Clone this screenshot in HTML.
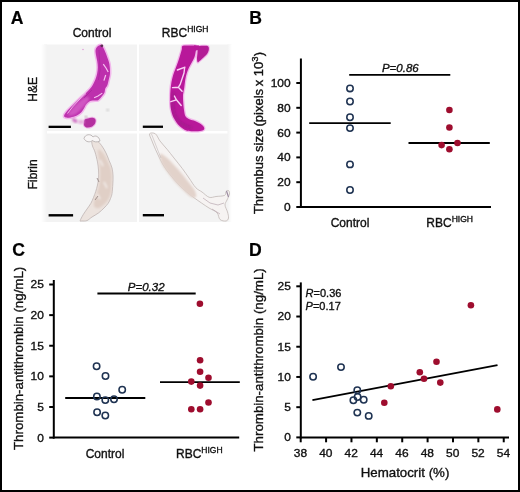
<!DOCTYPE html>
<html><head><meta charset="utf-8"><style>
html,body{margin:0;padding:0;background:#fff;}
body{width:520px;height:492px;overflow:hidden;position:relative;}
#fr{position:absolute;left:0;top:0;width:516px;height:488px;border:2px solid #000;background:#fff;}
svg{position:absolute;left:0;top:0;will-change:transform;filter:blur(0.3px);}
text{font-family:"Liberation Sans", sans-serif;fill:#111;stroke:#111;stroke-width:0.35px;}
.lab{font-size:17.6px;font-weight:bold;fill:#000;stroke:#000;stroke-width:0.2px;}
.cat{font-size:12px;}
.ttl{font-size:13.3px;}
.tick{font-size:11.5px;}
.it{font-style:italic;}
.sup{font-size:8.5px;}
.sup3{font-size:9.5px;}
.ax{stroke:#000;stroke-width:2;}
.ln{stroke:#000;stroke-width:1.8;}
</style></head><body>
<div id="fr"></div>
<svg width="520" height="492" viewBox="0 0 520 492">
<defs><linearGradient id="gl" x1="0" x2="1" y1="0" y2="0"><stop offset="0" stop-color="#fff"/><stop offset="1" stop-color="#f3f3f3"/></linearGradient><linearGradient id="gr" x1="0" x2="1" y1="0" y2="0"><stop offset="0" stop-color="#f3f3f3"/><stop offset="1" stop-color="#fff"/></linearGradient><filter id="bl" x="-20%" y="-20%" width="140%" height="140%"><feGaussianBlur stdDeviation="0.8"/></filter></defs>
<rect x="44" y="44.5" width="93" height="86.5" fill="#f3f3f3"/>
<rect x="139" y="44.5" width="92.5" height="86.5" fill="#f3f3f3"/>
<rect x="43.5" y="133.5" width="93.5" height="88.5" fill="#f3f3f3"/>
<rect x="139" y="133.5" width="92.5" height="88.5" fill="#f3f3f3"/>
<rect x="41" y="44.5" width="6" height="177.5" fill="url(#gl)"/>
<rect x="227.5" y="44.5" width="4.5" height="177.5" fill="url(#gr)"/>
<circle cx="107.7" cy="110" r="1.3" fill="#c8c8c8" filter="url(#bl)"/>
<circle cx="83" cy="49.5" r="0.8" fill="#e0a0d8"/>
<path d="M100.90,45.00 C101.87,45.20 102.50,46.35 103.30,47.70 C104.10,49.05 105.00,51.38 105.70,53.10 C106.40,54.82 106.88,56.17 107.50,58.00 C108.12,59.83 108.98,61.55 109.40,64.10 C109.82,66.65 110.10,70.75 110.00,73.30 C109.90,75.85 109.27,77.35 108.80,79.40 C108.33,81.45 107.78,84.08 107.20,85.60 C106.62,87.12 105.78,87.25 105.30,88.50 C104.82,89.75 104.97,91.67 104.30,93.10 C103.63,94.53 102.32,95.92 101.30,97.10 C100.28,98.28 99.25,99.62 98.20,100.20 C97.15,100.78 96.35,100.45 95.00,100.60 C93.65,100.75 91.60,100.47 90.10,101.10 C88.60,101.73 86.95,103.32 86.00,104.40 C85.05,105.48 85.22,106.25 84.40,107.60 C83.58,108.95 82.45,111.13 81.10,112.50 C79.75,113.87 78.05,114.98 76.30,115.80 C74.55,116.62 72.32,117.10 70.60,117.40 C68.88,117.70 67.08,117.87 66.00,117.60 C64.92,117.33 64.02,116.78 64.10,115.80 C64.18,114.82 65.10,113.42 66.50,111.70 C67.90,109.98 70.37,107.62 72.50,105.50 C74.63,103.38 77.05,101.08 79.30,99.00 C81.55,96.92 83.97,95.00 86.00,93.00 C88.03,91.00 89.93,89.27 91.50,87.00 C93.07,84.73 94.45,81.68 95.40,79.40 C96.35,77.12 96.80,75.33 97.20,73.30 C97.60,71.27 97.80,69.23 97.80,67.20 C97.80,65.17 97.50,63.13 97.20,61.10 C96.90,59.07 96.27,56.83 96.00,55.00 C95.73,53.17 95.35,51.52 95.60,50.10 C95.85,48.68 96.62,47.35 97.50,46.50 C98.38,45.65 99.93,44.80 100.90,45.00Z" fill="#ec9be2" stroke="#f2b8ec" stroke-width="3" stroke-linejoin="round"/>
<path d="M100.90,45.00 C101.87,45.20 102.50,46.35 103.30,47.70 C104.10,49.05 105.00,51.38 105.70,53.10 C106.40,54.82 106.88,56.17 107.50,58.00 C108.12,59.83 108.98,61.55 109.40,64.10 C109.82,66.65 110.10,70.75 110.00,73.30 C109.90,75.85 109.27,77.35 108.80,79.40 C108.33,81.45 107.78,84.08 107.20,85.60 C106.62,87.12 105.78,87.25 105.30,88.50 C104.82,89.75 104.97,91.67 104.30,93.10 C103.63,94.53 102.32,95.92 101.30,97.10 C100.28,98.28 99.25,99.62 98.20,100.20 C97.15,100.78 96.35,100.45 95.00,100.60 C93.65,100.75 91.60,100.47 90.10,101.10 C88.60,101.73 86.95,103.32 86.00,104.40 C85.05,105.48 85.22,106.25 84.40,107.60 C83.58,108.95 82.45,111.13 81.10,112.50 C79.75,113.87 78.05,114.98 76.30,115.80 C74.55,116.62 72.32,117.10 70.60,117.40 C68.88,117.70 67.08,117.87 66.00,117.60 C64.92,117.33 64.02,116.78 64.10,115.80 C64.18,114.82 65.10,113.42 66.50,111.70 C67.90,109.98 70.37,107.62 72.50,105.50 C74.63,103.38 77.05,101.08 79.30,99.00 C81.55,96.92 83.97,95.00 86.00,93.00 C88.03,91.00 89.93,89.27 91.50,87.00 C93.07,84.73 94.45,81.68 95.40,79.40 C96.35,77.12 96.80,75.33 97.20,73.30 C97.60,71.27 97.80,69.23 97.80,67.20 C97.80,65.17 97.50,63.13 97.20,61.10 C96.90,59.07 96.27,56.83 96.00,55.00 C95.73,53.17 95.35,51.52 95.60,50.10 C95.85,48.68 96.62,47.35 97.50,46.50 C98.38,45.65 99.93,44.80 100.90,45.00Z" fill="#bd30ad"/>
<path d="M84.50,120.00 C85.17,118.92 86.67,118.87 88.00,118.50 C89.33,118.13 91.27,117.63 92.50,117.80 C93.73,117.97 94.98,118.55 95.40,119.50 C95.82,120.45 95.65,122.28 95.00,123.50 C94.35,124.72 92.92,126.15 91.50,126.80 C90.08,127.45 87.75,127.70 86.50,127.40 C85.25,127.10 84.33,126.23 84.00,125.00 C83.67,123.77 83.83,121.08 84.50,120.00Z" fill="#c048b4" stroke="#f0b0e8" stroke-width="2"/>
<path d="M84.50,120.00 C85.17,118.92 86.67,118.87 88.00,118.50 C89.33,118.13 91.27,117.63 92.50,117.80 C93.73,117.97 94.98,118.55 95.40,119.50 C95.82,120.45 95.65,122.28 95.00,123.50 C94.35,124.72 92.92,126.15 91.50,126.80 C90.08,127.45 87.75,127.70 86.50,127.40 C85.25,127.10 84.33,126.23 84.00,125.00 C83.67,123.77 83.83,121.08 84.50,120.00Z" fill="#b4309f"/>
<path d="M68,114 C72,108 78,102 84,98 C88,96 91,97 88,101 C85,105 81,110 76,114 C72,116 68,116.5 68,114 Z" fill="#d056c2" filter="url(#bl)"/>
<path d="M72,118.5 C74,117.5 77,119 78,121.5 C77,123.5 74,123 72.5,121 Z" fill="#d070c4" filter="url(#bl)"/>
<path d="M78,121 C80,119 84,119.5 84.5,122 C83,124.5 80,124.5 78,123 Z" fill="#e6b0de" filter="url(#bl)"/>
<circle cx="86" cy="117" r="1.1" fill="#a08898" filter="url(#bl)"/>
<path d="M103.3,64.1 L106,68 L108.2,72 M105.7,75 L103.9,80.6" stroke="#f5c4f0" stroke-width="1.2" fill="none"/>
<path d="M94.1,97.7 L98,96 L102.3,93.1" stroke="#f5c4f0" stroke-width="1.1" fill="none"/>
<path d="M67.5,113.5 L72.5,107 L79,100 L86,93.5" stroke="#f3c0ee" stroke-width="0.9" fill="none"/>
<path d="M99,50 L99.5,60 L100,70 L98.5,80 M92,90 L84,98" stroke="#9a2290" stroke-width="1" stroke-opacity="0.45" fill="none"/>
<circle cx="101.8" cy="45.8" r="1.4" fill="#5a3050"/>
<path d="M182.50,46.00 C183.53,45.33 186.08,45.58 188.00,45.50 C189.92,45.42 192.58,45.33 194.00,45.50 C195.42,45.67 196.22,45.48 196.50,46.50 C196.78,47.52 196.03,49.85 195.70,51.60 C195.37,53.35 195.12,55.27 194.50,57.00 C193.88,58.73 192.92,60.25 192.00,62.00 C191.08,63.75 189.87,65.67 189.00,67.50 C188.13,69.33 187.43,70.92 186.80,73.00 C186.17,75.08 185.63,77.50 185.20,80.00 C184.77,82.50 184.57,85.50 184.20,88.00 C183.83,90.50 183.17,92.67 183.00,95.00 C182.83,97.33 183.03,99.50 183.20,102.00 C183.37,104.50 183.60,107.58 184.00,110.00 C184.40,112.42 184.60,114.92 185.60,116.50 C186.60,118.08 188.43,118.75 190.00,119.50 C191.57,120.25 193.33,120.33 195.00,121.00 C196.67,121.67 198.58,122.58 200.00,123.50 C201.42,124.42 202.83,125.50 203.50,126.50 C204.17,127.50 204.58,128.75 204.00,129.50 C203.42,130.25 201.83,130.72 200.00,131.00 C198.17,131.28 195.17,131.23 193.00,131.20 C190.83,131.17 188.78,131.28 187.00,130.80 C185.22,130.32 183.80,129.35 182.30,128.30 C180.80,127.25 179.22,125.88 178.00,124.50 C176.78,123.12 175.92,121.58 175.00,120.00 C174.08,118.42 173.23,117.17 172.50,115.00 C171.77,112.83 170.98,109.83 170.60,107.00 C170.22,104.17 170.22,100.83 170.20,98.00 C170.18,95.17 170.28,92.67 170.50,90.00 C170.72,87.33 171.05,84.50 171.50,82.00 C171.95,79.50 172.55,77.17 173.20,75.00 C173.85,72.83 174.60,71.17 175.40,69.00 C176.20,66.83 177.20,64.33 178.00,62.00 C178.80,59.67 179.57,57.08 180.20,55.00 C180.83,52.92 181.42,51.00 181.80,49.50 C182.18,48.00 181.47,46.67 182.50,46.00Z" fill="#e68ad8" stroke="#f2b4ea" stroke-width="2.6" stroke-linejoin="round"/>
<path d="M182.50,46.00 C183.53,45.33 186.08,45.58 188.00,45.50 C189.92,45.42 192.58,45.33 194.00,45.50 C195.42,45.67 196.22,45.48 196.50,46.50 C196.78,47.52 196.03,49.85 195.70,51.60 C195.37,53.35 195.12,55.27 194.50,57.00 C193.88,58.73 192.92,60.25 192.00,62.00 C191.08,63.75 189.87,65.67 189.00,67.50 C188.13,69.33 187.43,70.92 186.80,73.00 C186.17,75.08 185.63,77.50 185.20,80.00 C184.77,82.50 184.57,85.50 184.20,88.00 C183.83,90.50 183.17,92.67 183.00,95.00 C182.83,97.33 183.03,99.50 183.20,102.00 C183.37,104.50 183.60,107.58 184.00,110.00 C184.40,112.42 184.60,114.92 185.60,116.50 C186.60,118.08 188.43,118.75 190.00,119.50 C191.57,120.25 193.33,120.33 195.00,121.00 C196.67,121.67 198.58,122.58 200.00,123.50 C201.42,124.42 202.83,125.50 203.50,126.50 C204.17,127.50 204.58,128.75 204.00,129.50 C203.42,130.25 201.83,130.72 200.00,131.00 C198.17,131.28 195.17,131.23 193.00,131.20 C190.83,131.17 188.78,131.28 187.00,130.80 C185.22,130.32 183.80,129.35 182.30,128.30 C180.80,127.25 179.22,125.88 178.00,124.50 C176.78,123.12 175.92,121.58 175.00,120.00 C174.08,118.42 173.23,117.17 172.50,115.00 C171.77,112.83 170.98,109.83 170.60,107.00 C170.22,104.17 170.22,100.83 170.20,98.00 C170.18,95.17 170.28,92.67 170.50,90.00 C170.72,87.33 171.05,84.50 171.50,82.00 C171.95,79.50 172.55,77.17 173.20,75.00 C173.85,72.83 174.60,71.17 175.40,69.00 C176.20,66.83 177.20,64.33 178.00,62.00 C178.80,59.67 179.57,57.08 180.20,55.00 C180.83,52.92 181.42,51.00 181.80,49.50 C182.18,48.00 181.47,46.67 182.50,46.00Z" fill="#b8189a"/>
<path d="M197.00,46.50 C197.90,45.97 201.17,45.85 203.00,45.80 C204.83,45.75 207.03,45.55 208.00,46.20 C208.97,46.85 208.97,48.40 208.80,49.70 C208.63,51.00 207.97,52.62 207.00,54.00 C206.03,55.38 204.25,56.83 203.00,58.00 C201.75,59.17 200.40,60.30 199.50,61.00 C198.60,61.70 198.02,62.70 197.60,62.20 C197.18,61.70 197.02,59.53 197.00,58.00 C196.98,56.47 197.40,54.50 197.50,53.00 C197.60,51.50 197.68,50.08 197.60,49.00 C197.52,47.92 196.10,47.03 197.00,46.50Z" fill="#e68ad8" stroke="#f2b4ea" stroke-width="2.2" stroke-linejoin="round"/>
<path d="M197.00,46.50 C197.90,45.97 201.17,45.85 203.00,45.80 C204.83,45.75 207.03,45.55 208.00,46.20 C208.97,46.85 208.97,48.40 208.80,49.70 C208.63,51.00 207.97,52.62 207.00,54.00 C206.03,55.38 204.25,56.83 203.00,58.00 C201.75,59.17 200.40,60.30 199.50,61.00 C198.60,61.70 198.02,62.70 197.60,62.20 C197.18,61.70 197.02,59.53 197.00,58.00 C196.98,56.47 197.40,54.50 197.50,53.00 C197.60,51.50 197.68,50.08 197.60,49.00 C197.52,47.92 196.10,47.03 197.00,46.50Z" fill="#b31c96"/>
<path d="M194,45.3 L199,45.6 L198.2,50 L195.6,50.5 Z" fill="#b8189a"/>
<path d="M174,92 C172,100 172,108 175,116 C178,122 184,126 192,128" stroke="#861878" stroke-width="3" stroke-opacity="0.35" fill="none" filter="url(#bl)"/>
<path d="M177.4,70 L185,67.2 M184.6,68 L184,73 L180.2,84.4 L178.3,87.3 L172.5,87.6 M178.3,87.3 L182.1,91.2 M174.4,96 L176.4,99.8 L170.8,101.7 M176.4,99.8 L181.2,105.5" stroke="#f8d0f4" stroke-width="1.4" fill="none" stroke-linejoin="round" stroke-linecap="round"/>
<path d="M92.00,141.00 C92.58,140.00 94.42,139.27 96.00,140.00 C97.58,140.73 99.83,143.23 101.50,145.40 C103.17,147.57 104.72,150.43 106.00,153.00 C107.28,155.57 108.20,158.30 109.20,160.80 C110.20,163.30 111.37,165.47 112.00,168.00 C112.63,170.53 112.87,173.33 113.00,176.00 C113.13,178.67 112.97,181.07 112.80,184.00 C112.63,186.93 112.38,191.18 112.00,193.60 C111.62,196.02 111.13,196.88 110.50,198.50 C109.87,200.12 109.28,201.72 108.20,203.30 C107.12,204.88 105.60,206.40 104.00,208.00 C102.40,209.60 100.60,211.40 98.60,212.90 C96.60,214.40 93.93,215.72 92.00,217.00 C90.07,218.28 88.67,219.93 87.00,220.60 C85.33,221.27 83.13,221.00 82.00,221.00 C80.87,221.00 80.02,221.63 80.20,220.60 C80.38,219.57 81.97,216.73 83.10,214.80 C84.23,212.87 85.70,210.92 87.00,209.00 C88.30,207.08 89.82,205.22 90.90,203.30 C91.98,201.38 92.70,199.43 93.50,197.50 C94.30,195.57 95.03,193.78 95.70,191.70 C96.37,189.62 97.02,187.25 97.50,185.00 C97.98,182.75 98.43,180.70 98.60,178.20 C98.77,175.70 98.68,172.70 98.50,170.00 C98.32,167.30 98.08,165.00 97.50,162.00 C96.92,159.00 95.83,154.67 95.00,152.00 C94.17,149.33 93.00,147.83 92.50,146.00 C92.00,144.17 91.42,142.00 92.00,141.00Z" fill="#ece3de" stroke="#b8acaa" stroke-width="0.7"/>
<path d="M98.00,150.00 C98.58,148.17 101.33,151.00 103.00,153.00 C104.67,155.00 106.58,158.83 108.00,162.00 C109.42,165.17 110.92,168.33 111.50,172.00 C112.08,175.67 111.67,180.33 111.50,184.00 C111.33,187.67 111.33,191.00 110.50,194.00 C109.67,197.00 108.42,199.67 106.50,202.00 C104.58,204.33 101.08,207.33 99.00,208.00 C96.92,208.67 94.67,207.67 94.00,206.00 C93.33,204.33 94.25,201.00 95.00,198.00 C95.75,195.00 97.67,191.67 98.50,188.00 C99.33,184.33 99.83,180.00 100.00,176.00 C100.17,172.00 99.83,168.33 99.50,164.00 C99.17,159.67 97.42,151.83 98.00,150.00Z" fill="#e0cfc6" filter="url(#bl)"/>
<path d="M100,160 L103,166 M104,182 L107,188 M97,194 L100,199" stroke="#f4f0ee" stroke-width="1.6" fill="none" filter="url(#bl)"/>
<path d="M84,138.5 C85,134 91,133.5 93,137 C95,135 99,136 100,141 C97,142.5 94,142 92.5,140.5 C90,142.5 86,142.5 84,138.5 Z" fill="#f8f6f6" stroke="#b8b2b2" stroke-width="0.9"/>
<path d="M97,178 L99,182 M98,196 L95,200" stroke="#9a8a88" stroke-width="0.9" fill="none"/>
<path d="M149.60,133.80 C150.17,132.60 153.67,132.60 155.40,133.80 C157.13,135.00 158.07,138.43 160.00,141.00 C161.93,143.57 164.67,146.37 167.00,149.20 C169.33,152.03 171.45,154.78 174.00,158.00 C176.55,161.22 179.80,165.17 182.30,168.50 C184.80,171.83 186.75,174.80 189.00,178.00 C191.25,181.20 193.63,185.37 195.80,187.70 C197.97,190.03 199.77,190.40 202.00,192.00 C204.23,193.60 206.87,196.55 209.20,197.30 C211.53,198.05 213.43,196.82 216.00,196.50 C218.57,196.18 222.93,196.23 224.60,195.40 C226.27,194.57 225.35,192.32 226.00,191.50 C226.65,190.68 227.92,190.08 228.50,190.50 C229.08,190.92 229.75,192.42 229.50,194.00 C229.25,195.58 227.75,198.17 227.00,200.00 C226.25,201.83 224.92,203.00 225.00,205.00 C225.08,207.00 226.92,209.83 227.50,212.00 C228.08,214.17 228.75,216.50 228.50,218.00 C228.25,219.50 227.42,220.75 226.00,221.00 C224.58,221.25 221.50,220.88 220.00,219.50 C218.50,218.12 218.83,214.62 217.00,212.70 C215.17,210.78 211.58,209.62 209.00,208.00 C206.42,206.38 204.17,204.83 201.50,203.00 C198.83,201.17 195.55,198.92 193.00,197.00 C190.45,195.08 188.37,193.33 186.20,191.50 C184.03,189.67 181.93,187.92 180.00,186.00 C178.07,184.08 176.60,182.33 174.60,180.00 C172.60,177.67 169.93,174.57 168.00,172.00 C166.07,169.43 164.50,167.10 163.00,164.60 C161.50,162.10 160.27,159.57 159.00,157.00 C157.73,154.43 156.57,151.87 155.40,149.20 C154.23,146.53 152.97,143.57 152.00,141.00 C151.03,138.43 149.03,135.00 149.60,133.80Z" fill="#f6f3f2" stroke="#bab0ae" stroke-width="0.7"/>
<path d="M160.00,154.00 C160.67,152.83 163.67,155.17 166.00,157.00 C168.33,158.83 171.33,162.17 174.00,165.00 C176.67,167.83 179.33,170.83 182.00,174.00 C184.67,177.17 187.83,181.17 190.00,184.00 C192.17,186.83 194.00,188.83 195.00,191.00 C196.00,193.17 196.67,196.00 196.00,197.00 C195.33,198.00 193.17,198.17 191.00,197.00 C188.83,195.83 185.67,192.50 183.00,190.00 C180.33,187.50 177.50,184.83 175.00,182.00 C172.50,179.17 170.17,176.00 168.00,173.00 C165.83,170.00 163.33,167.17 162.00,164.00 C160.67,160.83 159.33,155.17 160.00,154.00Z" fill="#e2d2ca" filter="url(#bl)"/>
<path d="M151.5,134 L155,143 L158.5,152 L161,158" stroke="#c0b8b8" stroke-width="0.6" fill="none"/>
<path d="M203,198 L210,203 L218,205 L224,203 M212,209 L220,214" stroke="#b9a8b0" stroke-width="0.7" fill="none"/>
<path d="M226.5,191 L228.5,197" stroke="#9a8aa0" stroke-width="1.2" fill="none"/>
<rect x="48.6" y="125.7" width="22.3" height="2.3" fill="#000"/>
<rect x="142.8" y="125.6" width="20.2" height="2.3" fill="#000"/>
<rect x="48.6" y="214.1" width="24.5" height="2.4" fill="#000"/>
<rect x="142.8" y="214" width="21.2" height="2.4" fill="#000"/>
<text x="10.8" y="24" class="lab">A</text>
<text x="249.2" y="24" class="lab">B</text>
<text x="12.3" y="255.5" class="lab">C</text>
<text x="249" y="255.5" class="lab">D</text>
<text x="92" y="37.3" class="cat" text-anchor="middle">Control</text>
<text x="161.8" y="37.3" class="cat">RBC<tspan class="sup" dy="-5">HIGH</tspan></text>
<text transform="translate(36.8,89.3) rotate(-90)" class="cat" text-anchor="middle">H&amp;E</text>
<text transform="translate(36.8,174.3) rotate(-90)" class="cat" text-anchor="middle">Fibrin</text>
<line x1="300.9" y1="58.5" x2="300.9" y2="208" class="ax"/>
<line x1="300.0" y1="207" x2="491" y2="207" class="ax"/>
<line x1="296.3" y1="207.00" x2="300.9" y2="207.00" class="ax"/>
<text transform="translate(290.60,210.90) scale(1.04,1)" class="tick" text-anchor="end">0</text>
<line x1="296.3" y1="182.20" x2="300.9" y2="182.20" class="ax"/>
<text transform="translate(290.60,186.10) scale(1.04,1)" class="tick" text-anchor="end">20</text>
<line x1="296.3" y1="157.40" x2="300.9" y2="157.40" class="ax"/>
<text transform="translate(290.60,161.30) scale(1.04,1)" class="tick" text-anchor="end">40</text>
<line x1="296.3" y1="132.60" x2="300.9" y2="132.60" class="ax"/>
<text transform="translate(290.60,136.50) scale(1.04,1)" class="tick" text-anchor="end">60</text>
<line x1="296.3" y1="107.80" x2="300.9" y2="107.80" class="ax"/>
<text transform="translate(290.60,111.70) scale(1.04,1)" class="tick" text-anchor="end">80</text>
<line x1="296.3" y1="83.00" x2="300.9" y2="83.00" class="ax"/>
<text transform="translate(290.60,86.90) scale(1.04,1)" class="tick" text-anchor="end">100</text>
<text transform="translate(262.8,214.1) rotate(-90)" class="ttl" style="font-size:13px">Thrombus size <tspan dx="-1.3">(pixels</tspan><tspan dx="-0.9"> x 10</tspan><tspan class="sup3" dy="-4.4">3</tspan><tspan dy="4.4">)</tspan></text>
<text x="350" y="227" class="cat" text-anchor="middle">Control</text>
<text x="426.3" y="227" class="cat">RBC<tspan class="sup" dy="-5">HIGH</tspan></text>
<line x1="349.2" y1="74.9" x2="450.3" y2="74.9" class="ln"/>
<text x="400.3" y="71.7" class="tick it" text-anchor="middle">P=0.86</text>
<line x1="309.2" y1="123.2" x2="390.7" y2="123.2" class="ln"/>
<circle cx="350" cy="88.4" r="3.2" fill="none" stroke="#1f3352" stroke-width="1.55"/>
<circle cx="350" cy="101.5" r="3.2" fill="none" stroke="#1f3352" stroke-width="1.55"/>
<circle cx="350" cy="117.2" r="3.2" fill="none" stroke="#1f3352" stroke-width="1.55"/>
<circle cx="350" cy="128.1" r="3.2" fill="none" stroke="#1f3352" stroke-width="1.55"/>
<circle cx="350" cy="164.4" r="3.2" fill="none" stroke="#1f3352" stroke-width="1.55"/>
<circle cx="350" cy="190" r="3.2" fill="none" stroke="#1f3352" stroke-width="1.55"/>
<line x1="408.5" y1="143" x2="489.8" y2="143" class="ln"/>
<circle cx="449.4" cy="110" r="3.3" fill="#9e0d2e"/>
<circle cx="449.4" cy="127.5" r="3.3" fill="#9e0d2e"/>
<circle cx="441.6" cy="145.1" r="3.3" fill="#9e0d2e"/>
<circle cx="457.5" cy="143" r="3.3" fill="#9e0d2e"/>
<circle cx="449.4" cy="149.3" r="3.3" fill="#9e0d2e"/>
<line x1="53.8" y1="280" x2="53.8" y2="438.6" class="ax"/>
<line x1="52.9" y1="437.6" x2="239.2" y2="437.6" class="ax"/>
<line x1="49.2" y1="437.60" x2="53.8" y2="437.60" class="ax"/>
<text transform="translate(43.90,441.50) scale(1.04,1)" class="tick" text-anchor="end">0</text>
<line x1="49.2" y1="406.98" x2="53.8" y2="406.98" class="ax"/>
<text transform="translate(43.90,410.88) scale(1.04,1)" class="tick" text-anchor="end">5</text>
<line x1="49.2" y1="376.36" x2="53.8" y2="376.36" class="ax"/>
<text transform="translate(43.90,380.26) scale(1.04,1)" class="tick" text-anchor="end">10</text>
<line x1="49.2" y1="345.74" x2="53.8" y2="345.74" class="ax"/>
<text transform="translate(43.90,349.64) scale(1.04,1)" class="tick" text-anchor="end">15</text>
<line x1="49.2" y1="315.12" x2="53.8" y2="315.12" class="ax"/>
<text transform="translate(43.90,319.02) scale(1.04,1)" class="tick" text-anchor="end">20</text>
<line x1="49.2" y1="284.50" x2="53.8" y2="284.50" class="ax"/>
<text transform="translate(43.90,288.40) scale(1.04,1)" class="tick" text-anchor="end">25</text>
<text transform="translate(23.3,358.4) rotate(-90)" class="ttl" text-anchor="middle">Thrombin-antithrombin (ng/mL)</text>
<text x="105" y="457.6" class="cat" text-anchor="middle">Control</text>
<text x="176" y="457.6" class="cat">RBC<tspan class="sup" dy="-5">HIGH</tspan></text>
<line x1="97.4" y1="293.5" x2="195.7" y2="293.5" class="ln"/>
<text x="146.2" y="291" class="tick it" text-anchor="middle">P=0.32</text>
<line x1="65.2" y1="398" x2="145.3" y2="398" class="ln"/>
<circle cx="96.6" cy="366.2" r="3.2" fill="none" stroke="#1f3352" stroke-width="1.55"/>
<circle cx="105.5" cy="376" r="3.2" fill="none" stroke="#1f3352" stroke-width="1.55"/>
<circle cx="122.2" cy="389.7" r="3.2" fill="none" stroke="#1f3352" stroke-width="1.55"/>
<circle cx="96.9" cy="396.5" r="3.2" fill="none" stroke="#1f3352" stroke-width="1.55"/>
<circle cx="105.3" cy="400.1" r="3.2" fill="none" stroke="#1f3352" stroke-width="1.55"/>
<circle cx="114" cy="399.3" r="3.2" fill="none" stroke="#1f3352" stroke-width="1.55"/>
<circle cx="97.1" cy="412.2" r="3.2" fill="none" stroke="#1f3352" stroke-width="1.55"/>
<circle cx="105.3" cy="415.5" r="3.2" fill="none" stroke="#1f3352" stroke-width="1.55"/>
<line x1="160" y1="382.1" x2="239.8" y2="382.1" class="ln"/>
<circle cx="199.9" cy="303.7" r="3.3" fill="#9e0d2e"/>
<circle cx="200.1" cy="360.3" r="3.3" fill="#9e0d2e"/>
<circle cx="200.1" cy="371.7" r="3.3" fill="#9e0d2e"/>
<circle cx="208.5" cy="377.7" r="3.3" fill="#9e0d2e"/>
<circle cx="191.3" cy="381.6" r="3.3" fill="#9e0d2e"/>
<circle cx="200.1" cy="385.6" r="3.3" fill="#9e0d2e"/>
<circle cx="208.5" cy="402.5" r="3.3" fill="#9e0d2e"/>
<circle cx="191.3" cy="409.2" r="3.3" fill="#9e0d2e"/>
<circle cx="200.1" cy="409.2" r="3.3" fill="#9e0d2e"/>
<line x1="300.8" y1="282.4" x2="300.8" y2="438.4" class="ax"/>
<line x1="299.90000000000003" y1="437.4" x2="509" y2="437.4" class="ax"/>
<line x1="296.3" y1="437.40" x2="300.8" y2="437.40" class="ax"/>
<text transform="translate(290.80,441.30) scale(1.04,1)" class="tick" text-anchor="end">0</text>
<line x1="296.3" y1="407.18" x2="300.8" y2="407.18" class="ax"/>
<text transform="translate(290.80,411.08) scale(1.04,1)" class="tick" text-anchor="end">5</text>
<line x1="296.3" y1="376.96" x2="300.8" y2="376.96" class="ax"/>
<text transform="translate(290.80,380.86) scale(1.04,1)" class="tick" text-anchor="end">10</text>
<line x1="296.3" y1="346.74" x2="300.8" y2="346.74" class="ax"/>
<text transform="translate(290.80,350.64) scale(1.04,1)" class="tick" text-anchor="end">15</text>
<line x1="296.3" y1="316.52" x2="300.8" y2="316.52" class="ax"/>
<text transform="translate(290.80,320.42) scale(1.04,1)" class="tick" text-anchor="end">20</text>
<line x1="296.3" y1="286.30" x2="300.8" y2="286.30" class="ax"/>
<text transform="translate(290.80,290.20) scale(1.04,1)" class="tick" text-anchor="end">25</text>
<line x1="300.70" y1="437.4" x2="300.70" y2="442.3" class="ax"/>
<text transform="translate(300.40,457.00) scale(1.04,1)" class="tick" text-anchor="middle">38</text>
<line x1="326.08" y1="437.4" x2="326.08" y2="442.3" class="ax"/>
<text transform="translate(325.78,457.00) scale(1.04,1)" class="tick" text-anchor="middle">40</text>
<line x1="351.46" y1="437.4" x2="351.46" y2="442.3" class="ax"/>
<text transform="translate(351.16,457.00) scale(1.04,1)" class="tick" text-anchor="middle">42</text>
<line x1="376.84" y1="437.4" x2="376.84" y2="442.3" class="ax"/>
<text transform="translate(376.54,457.00) scale(1.04,1)" class="tick" text-anchor="middle">44</text>
<line x1="402.22" y1="437.4" x2="402.22" y2="442.3" class="ax"/>
<text transform="translate(401.92,457.00) scale(1.04,1)" class="tick" text-anchor="middle">46</text>
<line x1="427.60" y1="437.4" x2="427.60" y2="442.3" class="ax"/>
<text transform="translate(427.30,457.00) scale(1.04,1)" class="tick" text-anchor="middle">48</text>
<line x1="452.98" y1="437.4" x2="452.98" y2="442.3" class="ax"/>
<text transform="translate(452.68,457.00) scale(1.04,1)" class="tick" text-anchor="middle">50</text>
<line x1="478.36" y1="437.4" x2="478.36" y2="442.3" class="ax"/>
<text transform="translate(478.06,457.00) scale(1.04,1)" class="tick" text-anchor="middle">52</text>
<line x1="503.74" y1="437.4" x2="503.74" y2="442.3" class="ax"/>
<text transform="translate(503.44,457.00) scale(1.04,1)" class="tick" text-anchor="middle">54</text>
<text transform="translate(262.8,359.9) rotate(-90)" class="ttl" text-anchor="middle">Thrombin-antithrombin (ng/mL)</text>
<text x="405" y="476.9" class="ttl" text-anchor="middle">Hematocrit (%)</text>
<text x="305.6" y="296.8" class="tick" style="font-size:11px"><tspan class="it">R</tspan>=0.36</text>
<text x="305.6" y="309.9" class="tick" style="font-size:11px"><tspan class="it">P</tspan>=0.17</text>
<line x1="312.4" y1="400.2" x2="497.5" y2="365.1" class="ln"/>
<circle cx="313.1" cy="376.8" r="3.2" fill="none" stroke="#1f3352" stroke-width="1.55"/>
<circle cx="341" cy="367.1" r="3.2" fill="none" stroke="#1f3352" stroke-width="1.55"/>
<circle cx="357.3" cy="390.3" r="3.2" fill="none" stroke="#1f3352" stroke-width="1.55"/>
<circle cx="357.6" cy="397" r="3.2" fill="none" stroke="#1f3352" stroke-width="1.55"/>
<circle cx="353.4" cy="400.2" r="3.2" fill="none" stroke="#1f3352" stroke-width="1.55"/>
<circle cx="363.7" cy="399.8" r="3.2" fill="none" stroke="#1f3352" stroke-width="1.55"/>
<circle cx="357.3" cy="412.6" r="3.2" fill="none" stroke="#1f3352" stroke-width="1.55"/>
<circle cx="368.7" cy="415.9" r="3.2" fill="none" stroke="#1f3352" stroke-width="1.55"/>
<circle cx="470.9" cy="305.3" r="3.3" fill="#9e0d2e"/>
<circle cx="436.5" cy="361.7" r="3.3" fill="#9e0d2e"/>
<circle cx="419.8" cy="372.2" r="3.3" fill="#9e0d2e"/>
<circle cx="424" cy="378.7" r="3.3" fill="#9e0d2e"/>
<circle cx="440.3" cy="382.6" r="3.3" fill="#9e0d2e"/>
<circle cx="390.8" cy="386.3" r="3.3" fill="#9e0d2e"/>
<circle cx="384.3" cy="402.8" r="3.3" fill="#9e0d2e"/>
<circle cx="497.3" cy="409.4" r="3.3" fill="#9e0d2e"/>
</svg>
</body></html>
